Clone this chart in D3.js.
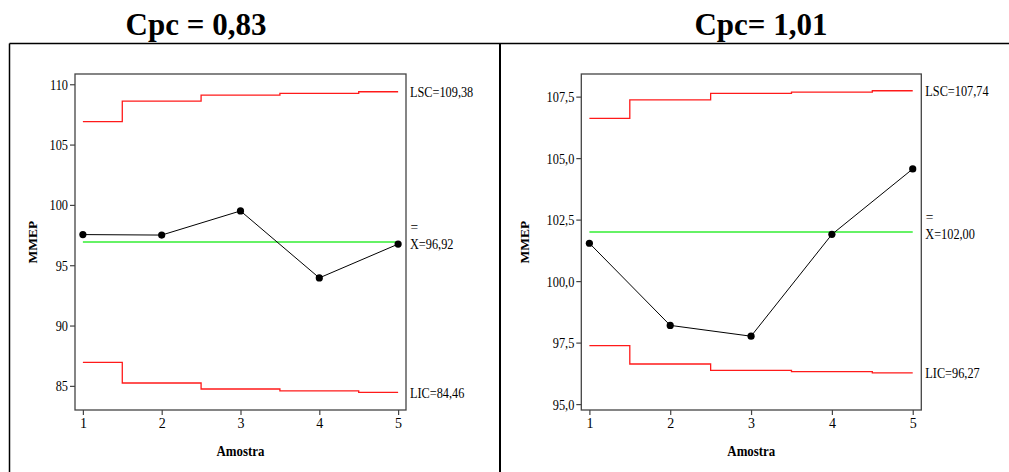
<!DOCTYPE html>
<html>
<head>
<meta charset="utf-8">
<script src="https://cdn.jsdelivr.net/npm/d3@7"></script>
<style>
  body { margin: 0; background: #fff; }
  svg text { font-family: "Liberation Serif", "DejaVu Serif", serif; fill: #000; }
</style>
</head>
<body>
<script>
// data
var samples = [1, 2, 3, 4, 5];

var titleA = "Cpc = 0,83";
var mmepA = [97.54, 97.5, 99.5, 93.95, 96.75];
var lscA = [106.9, 108.6, 109.1, 109.25, 109.38];
var licA = [86.94, 85.24, 84.74, 84.59, 84.46];
var centerA = 96.92;
var yTicksA = [85, 90, 95, 100, 105, 110];
var labelsA = ["LSC=109,38", "X=96,92", "LIC=84,46"];

var titleB = "Cpc= 1,01";
var mmepB = [101.54, 98.2, 97.76, 101.9, 104.56];
var lscB = [106.62, 107.37, 107.63, 107.68, 107.74];
var licB = [97.38, 96.63, 96.37, 96.32, 96.27];
var centerB = 102.0;
var yTicksB = [95, 97.5, 100, 102.5, 105, 107.5];
var labelsB = ["LSC=107,74", "X=102,00", "LIC=96,27"];

var W = 1009, H = 472;
var SERIF = "'Liberation Serif', 'DejaVu Serif', serif";

var svg = d3.select("body").append("svg")
    .attr("width", W)
    .attr("height", H)
    .style("font-family", SERIF);

// outer frames
svg.append("line")
    .attr("x1", 9.5).attr("y1", 43.5).attr("x2", W).attr("y2", 43.5)
    .attr("stroke", "#000").attr("stroke-width", 1.5);
svg.append("line")
    .attr("x1", 9.5).attr("y1", 43.5).attr("x2", 9.5).attr("y2", H)
    .attr("stroke", "#000").attr("stroke-width", 1.5);
svg.append("line")
    .attr("x1", 500).attr("y1", 43.5).attr("x2", 500).attr("y2", H)
    .attr("stroke", "#000").attr("stroke-width", 2);

var comma = function(f) {
    return function(d) { return d3.format(f)(d).replace(".", ","); };
};

var squeeze = function(sel, x, y, sx) {
    return sel.attr("transform", "translate(" + x + "," + y + ") scale(" + sx + ",1)")
        .style("font-family", SERIF);
};

var panel = function(opt) {
    var g = svg.append("g");

    var x = d3.scaleLinear().domain(opt.xDomain).range([opt.left, opt.right]);
    var y = d3.scaleLinear().domain(opt.yDomain).range([opt.bottom, opt.top]);

    // title
    g.append("text")
        .attr("x", opt.titleX).attr("y", 35)
        .attr("text-anchor", "middle")
        .style("font-family", SERIF)
        .style("font-size", "31px")
        .style("font-weight", "bold")
        .text(opt.title);

    // frame
    g.append("rect")
        .attr("x", opt.left).attr("y", opt.top)
        .attr("width", opt.right - opt.left)
        .attr("height", opt.bottom - opt.top)
        .attr("fill", "none")
        .attr("stroke", "#444")
        .attr("stroke-width", 1.3);

    // y axis
    var yAxis = g.append("g")
        .attr("transform", "translate(" + opt.left + ",0)")
        .call(d3.axisLeft(y).tickValues(opt.yTicks).tickFormat(opt.fmt).tickSize(5).tickPadding(2));
    yAxis.attr("font-family", null);
    yAxis.select(".domain").remove();
    yAxis.selectAll("line").attr("stroke", "#444").attr("stroke-width", 1.2);
    yAxis.selectAll("text")
        .style("font-size", "14px")
        .style("font-family", SERIF)
        .attr("fill", "#000")
        .attr("dy", "0.35em")
        .each(function() {
            var t = d3.select(this);
            var xx = +t.attr("x");
            t.attr("x", null)
             .attr("transform", "translate(" + xx + ",0) scale(0.88,1)");
        });

    // x axis
    var xAxis = g.append("g")
        .attr("transform", "translate(0," + opt.bottom + ")")
        .call(d3.axisBottom(x).tickValues(samples).tickFormat(d3.format("d")).tickSize(5).tickPadding(3));
    xAxis.attr("font-family", null);
    xAxis.select(".domain").remove();
    xAxis.selectAll("line").attr("stroke", "#444").attr("stroke-width", 1.2);
    xAxis.selectAll("text")
        .style("font-size", "14px")
        .style("font-family", SERIF)
        .attr("fill", "#000");

    // axis titles
    g.append("text")
        .attr("transform", "translate(" + opt.yTitleX + "," + ((opt.top + opt.bottom) / 2) + ") rotate(-90)")
        .attr("text-anchor", "middle")
        .attr("dy", "0.35em")
        .style("font-family", SERIF)
        .style("font-size", "13.5px")
        .style("font-weight", "bold")
        .text("MMEP");

    squeeze(g.append("text"), (opt.left + opt.right) / 2, 456, 0.92)
        .attr("text-anchor", "middle")
        .style("font-size", "14px")
        .style("font-weight", "bold")
        .text("Amostra");

    // control limits
    var step = d3.line()
        .x(function(d, i) { return x(samples[i]); })
        .y(function(d) { return y(d); })
        .curve(d3.curveStep);

    g.append("path")
        .attr("d", step(opt.lsc))
        .attr("fill", "none").attr("stroke", "#ff1a1a").attr("stroke-width", 1.3);
    g.append("path")
        .attr("d", step(opt.lic))
        .attr("fill", "none").attr("stroke", "#ff1a1a").attr("stroke-width", 1.3);

    g.append("line")
        .attr("x1", x(samples[0])).attr("x2", x(samples[samples.length - 1]))
        .attr("y1", y(opt.center)).attr("y2", y(opt.center))
        .attr("stroke", "#33ee33").attr("stroke-width", 1.5);

    // data
    var line = d3.line()
        .x(function(d, i) { return x(samples[i]); })
        .y(function(d) { return y(d); });

    g.append("path")
        .attr("d", line(opt.values))
        .attr("fill", "none").attr("stroke", "#000").attr("stroke-width", 1);

    g.selectAll(".pt")
        .data(opt.values)
        .enter()
        .append("circle")
        .attr("cx", function(d, i) { return x(samples[i]); })
        .attr("cy", function(d) { return y(d); })
        .attr("r", 3.6)
        .attr("fill", "#000");

    // limit labels
    var lx = opt.right + 4;
    var last = samples.length - 1;
    squeeze(g.append("text"), lx, y(opt.lsc[last]), 0.82)
        .attr("dy", "0.35em").style("font-size", "15px").text(opt.labels[0]);
    squeeze(g.append("text"), lx, y(opt.center) + 2, 0.82)
        .attr("dy", "0.35em").style("font-size", "15px").text(opt.labels[1]);
    squeeze(g.append("text"), lx + 0.5, y(opt.center) - 15, 0.9)
        .attr("dy", "0.35em").style("font-size", "15px").text("=");
    squeeze(g.append("text"), lx, y(opt.lic[last]), 0.82)
        .attr("dy", "0.35em").style("font-size", "15px").text(opt.labels[2]);
};

panel({
    title: titleA, titleX: 196,
    left: 75, right: 406, top: 74, bottom: 410,
    xDomain: [0.9, 5.1], yDomain: [83.0, 110.85],
    yTicks: yTicksA, fmt: d3.format("d"), yTitleX: 32,
    values: mmepA, lsc: lscA, lic: licA, center: centerA, labels: labelsA
});

panel({
    title: titleB, titleX: 761,
    left: 581.3, right: 921.3, top: 74, bottom: 410,
    xDomain: [0.9, 5.106], yDomain: [94.76, 108.42],
    yTicks: yTicksB, fmt: comma(".1f"), yTitleX: 524,
    values: mmepB, lsc: lscB, lic: licB, center: centerB, labels: labelsB
});
</script>
</body>
</html>
